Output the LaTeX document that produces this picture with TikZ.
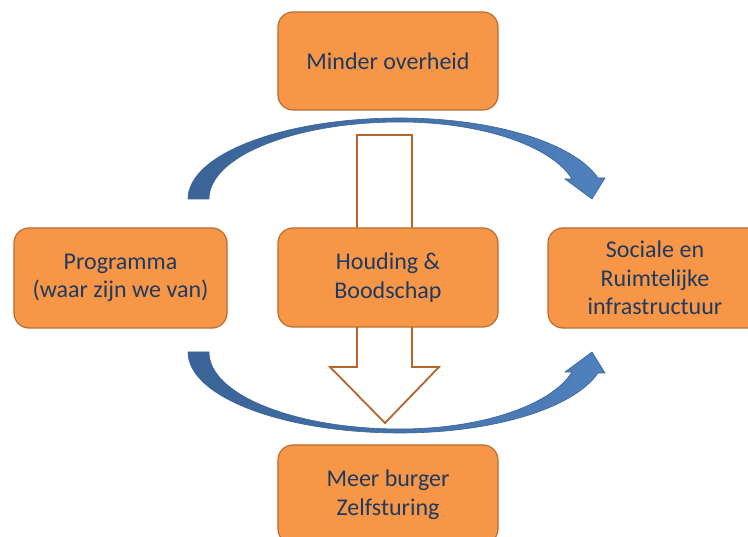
\documentclass[tikz,border=0pt]{standalone}
\usepackage{fontspec}
\setmainfont{Carlito}
\definecolor{boxfill}{HTML}{F79646}
\definecolor{boxline}{HTML}{B66D31}
\definecolor{boxtext}{HTML}{1F3A60}
\definecolor{hollowline}{HTML}{B5642A}
\definecolor{blueL}{HTML}{3A6397}
\definecolor{blueR}{HTML}{4F81BD}
\definecolor{blueD}{HTML}{3A6397}
\tikzset{
  box/.style={draw=boxline, fill=boxfill, line width=1.2pt, rounded corners=15pt,
    text=boxtext, align=center, inner sep=0pt,
    font=\fontsize{24}{28.5}\selectfont},
  hollow/.style={draw=hollowline, fill=white, line width=1.8pt, line join=miter},
  bluearrow/.style={left color=blueL, right color=blueR, draw=blueD, line width=0.6pt}
}
\begin{document}
\begin{tikzpicture}[x=1pt,y=-1pt]
\clip (0,0) rectangle (748,537);
\fill[white] (0,0) rectangle (748,537);
% hollow down arrow
\draw[hollow] (357,135) -- (412,135) -- (412,367) -- (439,367) -- (385,423) -- (330,367) -- (357,367) -- cycle;
% top curved arrow
\path[bluearrow] (188,199) .. controls (188,154.3) and (282.9,118) .. (400,118)
  .. controls (492.8,118) and (574,142.6) .. (598,178)
  -- (605,178) -- (592,199) -- (565,179) -- (572,179)
  .. controls (551.1,145.4) and (480.6,122) .. (400,122)
  .. controls (294.5,122) and (209,156.5) .. (209,199) -- cycle;
% bottom curved arrow
\path[bluearrow] (188,352) .. controls (188,396.7) and (282.9,433) .. (400,433)
  .. controls (492.8,433) and (574,408.4) .. (598,373)
  -- (605,373) -- (592,352) -- (565,372) -- (572,372)
  .. controls (551.1,405.6) and (480.6,429) .. (400,429)
  .. controls (294.5,429) and (209,394.5) .. (209,352) -- cycle;
% boxes
\node[box, minimum width=220pt, minimum height=98pt] (minder) at (388,61) {Minder overheid};
\node[box, minimum width=213pt, minimum height=100pt] (prog) at (120.5,278) {Programma\\(waar zijn we van)};
\node[box, minimum width=220pt, minimum height=99pt] (houding) at (388,277.5) {Houding \&\\Boodschap};
\node[box, minimum width=214pt, minimum height=100pt] (sociale) at (655,278) {Sociale en\\Ruimtelijke\\infrastructuur};
\node[box, minimum width=220pt, minimum height=99pt] (meer) at (388,494.5) {Meer burger\\Zelfsturing};
\end{tikzpicture}
\end{document}
